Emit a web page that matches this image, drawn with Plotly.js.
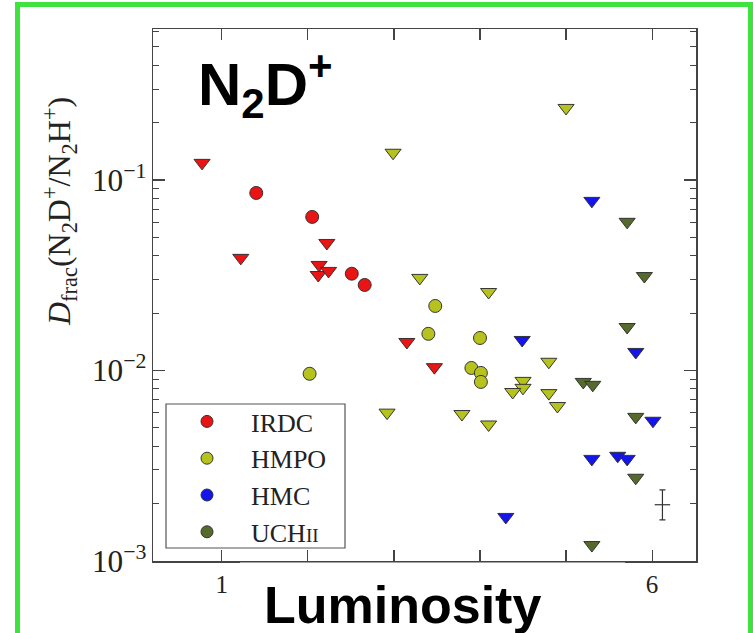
<!DOCTYPE html>
<html>
<head>
<meta charset="utf-8">
<script src="https://cdn.plot.ly/plotly-3.0.1.min.js"></script>
<style>
  html, body { margin: 0; padding: 0; background: #ffffff; }
  #chart { width: 753px; height: 633px; }
</style>
</head>
<body>
<div id="chart"></div>
<script>
// Deuterium fraction of N2D+ versus luminosity for four source classes.
// Circles are detections, down-pointing triangles are upper limits.

const irdcDetX = [1.40, 2.05, 2.51, 2.66];
const irdcDetY = [0.0855, 0.064, 0.0322, 0.0281];
const irdcLimX = [0.77, 1.22, 2.22, 2.13, 2.12, 2.24, 3.15, 3.47];
const irdcLimY = [0.123, 0.039, 0.0467, 0.0358, 0.0317, 0.0333, 0.0141, 0.0104];

const hmpoDetX = [2.02, 3.40, 3.48, 4.00, 3.90, 4.01, 4.01];
const hmpoDetY = [0.0096, 0.01556, 0.0218, 0.0148, 0.0103, 0.0097, 0.0087];
const hmpoLimX = [2.99, 3.30, 2.92, 3.79, 5.00, 4.10, 4.10, 4.80, 4.50, 4.50, 4.38, 4.80, 4.90];
const hmpoLimY = [0.139, 0.0306, 0.0060, 0.0059, 0.239, 0.0258, 0.0052, 0.0111, 0.00881, 0.0081, 0.0077, 0.0076, 0.0065];

const hmcLimX = [5.30, 4.49, 5.81, 6.01, 5.30, 5.60, 5.71, 4.30];
const hmcLimY = [0.0777, 0.01445, 0.0125, 0.00544, 0.00343, 0.00356, 0.00343, 0.0017];

const uchiiLimX = [5.71, 5.91, 5.71, 5.20, 5.31, 5.81, 5.81, 5.30];
const uchiiLimY = [0.0603, 0.0313, 0.0169, 0.0087, 0.0084, 0.0057, 0.00273, 0.00121];

// representative uncertainty
const errX = [6.12];
const errY = [0.00197];
const errYPlus = [0.00039];
const errYMinus = [0.00033];
const errXHalf = [0.09];

const classNames = ['IRDC', 'HMPO', 'HMC', 'UCH<span style="font-size:19px">II</span>'];
const classColors = ['#ea1414', '#b6c31e', '#1414ec', '#566a2c'];

const xTickVals = [1, 2, 3, 4, 5, 6];
const xTickText = ['1', '', '', '', '', '6'];

const outline = { color: 'rgba(45,45,45,0.95)', width: 1 };

function det(x, y, i) {
  return {
    type: 'scatter', mode: 'markers', x: x, y: y,
    showlegend: false, legendgroup: 'g' + i, hoverinfo: 'x+y',
    marker: { symbol: 'circle', size: 13, color: classColors[i], line: outline }
  };
}
function lim(x, y, i) {
  return {
    type: 'scatter', mode: 'markers', x: x, y: y,
    showlegend: false, legendgroup: 'g' + i, hoverinfo: 'x+y',
    marker: { symbol: 'triangle-down', size: 14, color: classColors[i], line: outline }
  };
}
function key(i) {
  return {
    type: 'scatter', mode: 'markers', x: [null], y: [null],
    name: classNames[i], legendgroup: 'g' + i, showlegend: true,
    marker: { symbol: 'circle', size: 12, color: classColors[i], line: outline }
  };
}

const traces = [
  det(irdcDetX, irdcDetY, 0), lim(irdcLimX, irdcLimY, 0),
  det(hmpoDetX, hmpoDetY, 1), lim(hmpoLimX, hmpoLimY, 1),
  lim(hmcLimX, hmcLimY, 2),
  lim(uchiiLimX, uchiiLimY, 3),
  key(0), key(1), key(2), key(3),
  {
    type: 'scatter', mode: 'markers', x: errX, y: errY, showlegend: false, hoverinfo: 'skip',
    marker: { size: 1, color: 'rgba(0,0,0,0)' },
    error_y: { type: 'data', symmetric: false, array: errYPlus, arrayminus: errYMinus,
               color: '#333', thickness: 1.2, width: 3 },
    error_x: { type: 'data', array: errXHalf, color: '#333', thickness: 1.2, width: 0 }
  }
];

// plot area in pixels: left 153, right 696, top 29, bottom 561
const L = 153, R = 696, T = 29, B = 561;
const px = v => (v - L) / (R - L);
const py = v => (B - v) / (B - T);

const serif = 'Liberation Serif, DejaVu Serif, serif';
const sans = 'Liberation Sans, Arial, sans-serif';

const layout = {
  width: 753, height: 633,
  margin: { l: L, r: 753 - R, t: T, b: 633 - B, pad: 0 },
  paper_bgcolor: '#ffffff', plot_bgcolor: '#ffffff',
  showlegend: true,
  legend: {
    x: px(163), y: py(398), xanchor: 'left', yanchor: 'top',
    bgcolor: 'rgba(0,0,0,0)', borderwidth: 0,
    font: { family: serif, size: 26, color: '#222' },
    traceorder: 'grouped', tracegroupgap: 0, itemwidth: 78
  },
  xaxis: {
    range: [0.2, 6.51], tickmode: 'array', tickvals: xTickVals, ticktext: xTickText,
    ticks: 'inside', ticklen: 11, tickwidth: 1.2, tickcolor: '#444',
    showline: true, linecolor: '#444', linewidth: 1.5, mirror: 'ticks',
    showgrid: false, zeroline: false,
    tickfont: { family: serif, size: 25, color: '#222' }
  },
  yaxis: {
    type: 'log', range: [-3.001, -0.207], dtick: 1, exponentformat: 'power',
    ticks: 'inside', ticklen: 12, tickwidth: 1.2, tickcolor: '#444',
    minor: { ticks: 'inside', ticklen: 6, dtick: 'D1', tickcolor: '#444', tickwidth: 1, showgrid: false },
    showline: true, linecolor: '#444', linewidth: 1.5, mirror: 'ticks',
    showgrid: false, zeroline: false,
    tickfont: { family: serif, size: 25, color: '#222' }
  },
  shapes: [
    // legend frame
    { type: 'rect', xref: 'paper', yref: 'paper', layer: 'above',
      x0: px(166), x1: px(345), y0: py(548), y1: py(404),
      fillcolor: '#ffffff', line: { color: '#555', width: 1.2 } },
    // panel behind the bottom caption
    { type: 'rect', xref: 'paper', yref: 'paper', layer: 'above',
      x0: px(240), x1: px(625), y0: py(645), y1: py(562.5),
      fillcolor: '#ffffff', line: { width: 0 } },
    // green frame
    { type: 'rect', xref: 'paper', yref: 'paper', layer: 'above',
      x0: px(17.5), x1: px(750.5), y0: py(650), y1: py(4.5),
      fillcolor: 'rgba(0,0,0,0)', line: { color: '#3fe23f', width: 5 } }
  ],
  annotations: [
    { text: '<b>N<sub>2</sub>D<sup>+</sup></b>', xref: 'paper', yref: 'paper',
      x: px(196), y: py(40), xanchor: 'left', yanchor: 'top', showarrow: false,
      font: { family: sans, size: 60, color: '#000' } },
    { text: '<b>Luminosity</b>', xref: 'paper', yref: 'paper',
      x: px(402), y: py(605), xanchor: 'center', yanchor: 'middle', showarrow: false,
      font: { family: sans, size: 52, color: '#000' } },
    { text: '<i>D</i><sub>frac</sub>(N<sub>2</sub>D<sup>+</sup>/N<sub>2</sub>H<sup>+</sup>)',
      xref: 'paper', yref: 'paper', x: px(59), y: py(212), textangle: -90,
      xanchor: 'center', yanchor: 'middle', showarrow: false,
      font: { family: serif, size: 32, color: '#222' } }
  ]
};

Plotly.newPlot('chart', traces, layout, { displayModeBar: false, staticPlot: true });
</script>
</body>
</html>
